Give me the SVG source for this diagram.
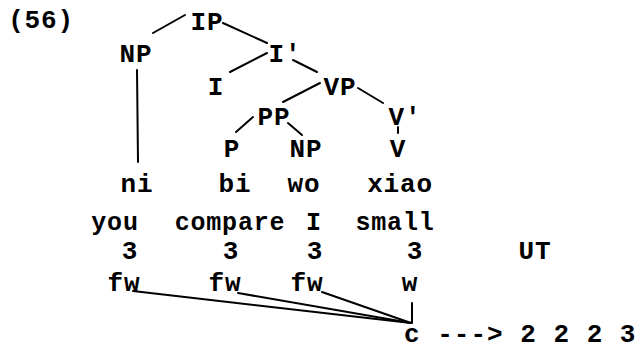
<svg xmlns="http://www.w3.org/2000/svg" width="641" height="360" viewBox="0 0 641 360">
<style>
text{font-family:"Liberation Mono","DejaVu Sans Mono",monospace;font-size:26px;font-weight:bold;fill:#000;text-anchor:middle;letter-spacing:0.8px}
.s{font-size:25px}
.l{text-anchor:start;letter-spacing:1px}
line{stroke:#000;stroke-width:2;stroke-linecap:round}
</style>
<rect width="641" height="360" fill="#fff"/>
<text x="41" y="28">(56)</text>
<g id="IP"><text x="207" y="30">IP</text></g>
<g id="NP1"><text x="136" y="62">NP</text></g>
<g id="Ibar"><text x="285" y="62">I′</text></g>
<g id="I"><text x="216" y="95">I</text></g>
<g id="VP"><text x="340" y="95">VP</text></g>
<g id="PP"><text x="274" y="125">PP</text></g>
<g id="Vbar"><text x="405" y="125">V′</text></g>
<g id="P"><text x="232" y="157">P</text></g>
<g id="NP2"><text x="306" y="157">NP</text></g>
<g id="V"><text x="398" y="157">V</text></g>
<g id="words">
<text x="137" y="192">ni</text>
<text x="235" y="192">bi</text>
<text x="304" y="192">wo</text>
<text x="400" y="192">xiao</text>
<text class="s" x="115" y="230">you</text>
<text class="s" x="230" y="230">compare</text>
<text class="s" x="314" y="230">I</text>
<text class="s" x="395" y="230">small</text>
<text x="130" y="259">3</text>
<text x="231" y="259">3</text>
<text x="315" y="259">3</text>
<text x="415" y="259">3</text>
<text x="535" y="259">UT</text>
<text x="124" y="291">fw</text>
<text x="225" y="291">fw</text>
<text x="307" y="291">fw</text>
<text x="410" y="291">w</text>
<text class="l" x="404" y="342">c ---&gt; 2 2 2 3</text>
</g>
<g id="connectors">
<line x1="185" y1="15" x2="153" y2="33"/>
<line x1="223" y1="23" x2="267" y2="43"/>
<line x1="267" y1="53" x2="230" y2="72"/>
<line x1="293" y1="60" x2="317" y2="72"/>
<line x1="320" y1="83" x2="283" y2="102"/>
<line x1="358" y1="88" x2="383" y2="103"/>
<line x1="253" y1="117" x2="236" y2="132"/>
<line x1="288" y1="123" x2="302" y2="135"/>
<line x1="398" y1="127" x2="398" y2="133"/>
<line x1="137" y1="70" x2="138" y2="162"/>
<line x1="133" y1="291" x2="411" y2="323"/>
<line x1="238" y1="293" x2="411" y2="323"/>
<line x1="322" y1="292" x2="411" y2="323"/>
<line x1="412" y1="303" x2="412" y2="323"/>
</g>
</svg>
